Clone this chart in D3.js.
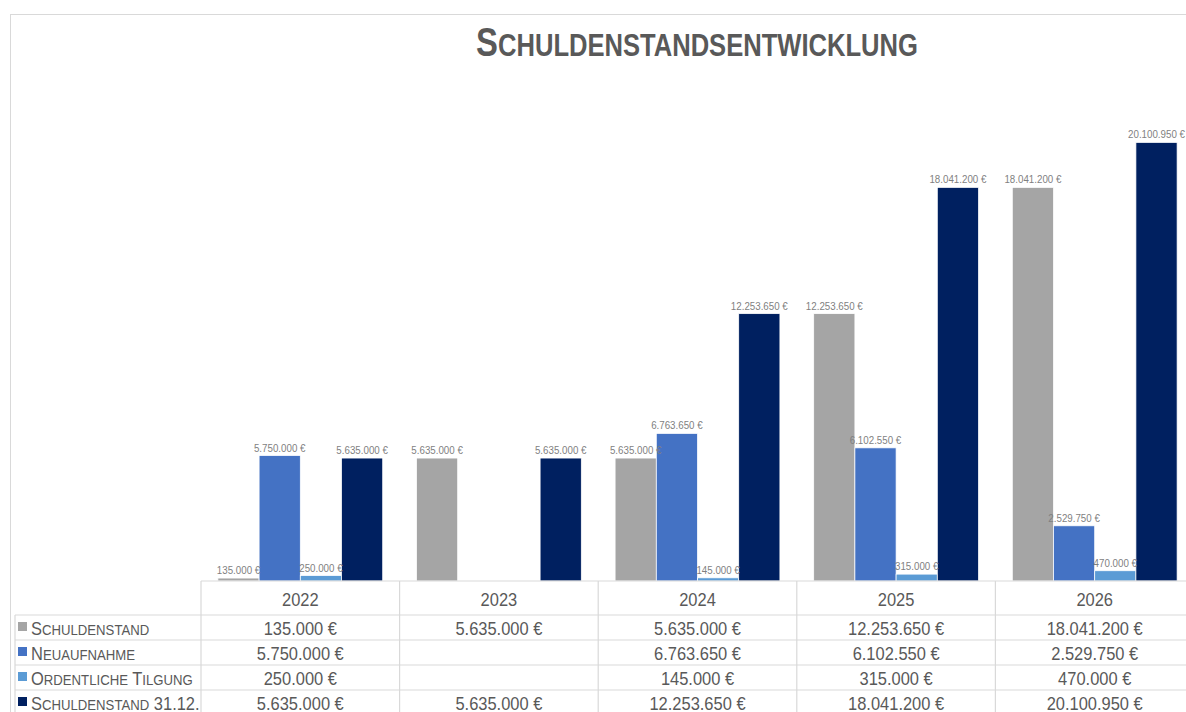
<!DOCTYPE html>
<html>
<head>
<meta charset="utf-8">
<script src="https://cdn.jsdelivr.net/npm/d3@7"></script>
<style>
  body { margin: 0; background: #fff; }
  svg { display: block; font-family: "Liberation Sans", Arial, sans-serif; }
</style>
</head>
<body>
<div id="chart"></div>
<script>
const years = ['2022', '2023', '2024', '2025', '2026']
const seriesNames = ['Schuldenstand', 'Neuaufnahme', 'Ordentliche Tilgung', 'Schuldenstand 31.12.']
const schuldenstand = [135000, 5635000, 5635000, 12253650, 18041200]
const neuaufnahme = [5750000, null, 6763650, 6102550, 2529750]
const tilgung = [250000, null, 145000, 315000, 470000]
const schuldenstandEnde = [5635000, 5635000, 12253650, 18041200, 20100950]
const colors = ['#a5a5a5', '#4472c4', '#5b9bd5', '#002060']

const allSeries = [schuldenstand, neuaufnahme, tilgung, schuldenstandEnde]

let svgWidth = 1186,
  svgHeight = 712

const de = d3.formatLocale({ decimal: ',', thousands: '.', grouping: [3], currency: ['', ' €'] })
const fmt = (v) => de.format(',.0f')(v) + ' €'

let svg = d3
  .select('#chart')
  .append('svg')
  .attr('width', svgWidth)
  .attr('height', svgHeight)

// no narrow font installed, so squeeze the normal one
function place(x, y, sx) {
  return 'translate(' + x + ',' + y + ') scale(' + sx + ',1)'
}

// chart border
svg
  .append('rect')
  .attr('x', 10.5)
  .attr('y', 14.5)
  .attr('width', 1400)
  .attr('height', 800)
  .attr('fill', 'none')
  .attr('stroke', '#d9d9d9')

// write text in small caps like excel does
function smallCaps(sel, str, size, ratio) {
  let runs = []
  for (let ch of str) {
    let small = ch !== ch.toUpperCase()
    if (runs.length && runs[runs.length - 1].small === small) runs[runs.length - 1].t += ch
    else runs.push({ t: ch, small: small })
  }
  runs.forEach((r) => {
    sel
      .append('tspan')
      .attr('font-size', r.small ? size * ratio : size)
      .text(r.t.toUpperCase())
  })
}

// title
let title = svg
  .append('text')
  .attr('transform', place(697, 56, 0.8))
  .attr('text-anchor', 'middle')
  .attr('fill', '#595959')
  .attr('font-weight', 'bold')
smallCaps(title, 'Schuldenstandsentwicklung', 41, 0.78)

// scales
let x0 = d3.scaleBand().domain(years).range([201, 1194])
let x1 = d3
  .scaleBand()
  .domain(d3.range(4))
  .range([0, x0.bandwidth()])
  .paddingOuter(0.41)
let y = d3.scaleLinear().domain([0, 22000000]).range([581, 101])

// bars
let groups = svg
  .selectAll('.year')
  .data(years)
  .enter()
  .append('g')
  .attr('class', 'year')
  .attr('transform', (d) => 'translate(' + x0(d) + ',0)')

groups.each(function (yr, i) {
  let g = d3.select(this)
  let vals = allSeries
    .map((s, k) => ({ k: k, v: s[i] }))
    .filter((d) => d.v != null)
  g.selectAll('rect')
    .data(vals)
    .enter()
    .append('rect')
    .attr('x', (d) => x1(d.k))
    .attr('width', x1.bandwidth())
    .attr('y', (d) => y(d.v))
    .attr('height', (d) => y(0) - y(d.v))
    .attr('fill', (d) => colors[d.k])
    .attr('stroke', '#fff')
    .attr('stroke-width', 0.75)
  g.selectAll('.lbl')
    .data(vals)
    .enter()
    .append('text')
    .attr('class', 'lbl')
    .attr('transform', (d) => place(x1(d.k) + x1.bandwidth() / 2, y(d.v) - 4, 0.93))
    .attr('text-anchor', 'middle')
    .attr('font-size', 10.5)
    .attr('fill', '#7f7f7f')
    .text((d) => fmt(d.v))
})

// data table
let tableTop = 581,
  headH = 34,
  rowH = 25
let grid = svg.append('g').attr('stroke', '#d9d9d9').attr('stroke-width', 1.2)
grid
  .append('line')
  .attr('x1', 201)
  .attr('x2', 1200)
  .attr('y1', tableTop)
  .attr('y2', tableTop)
seriesNames.forEach((s, k) => {
  let yy = tableTop + headH + k * rowH
  grid.append('line').attr('x1', 15).attr('x2', 1200).attr('y1', yy).attr('y2', yy)
})
years.forEach((yr) => {
  grid
    .append('line')
    .attr('x1', x0(yr))
    .attr('x2', x0(yr))
    .attr('y1', tableTop)
    .attr('y2', 720)
})
grid
  .append('line')
  .attr('x1', 15)
  .attr('x2', 15)
  .attr('y1', tableTop + headH)
  .attr('y2', 720)

// header
svg
  .selectAll('.yr')
  .data(years)
  .enter()
  .append('text')
  .attr('class', 'yr')
  .attr('transform', (d) => place(x0(d) + x0.bandwidth() / 2, tableTop + 25, 0.89))
  .attr('text-anchor', 'middle')
  .attr('font-size', 18.5)
  .attr('fill', '#595959')
  .text((d) => d)

// rows
seriesNames.forEach((s, k) => {
  let top = tableTop + headH + k * rowH
  svg
    .append('rect')
    .attr('x', 18)
    .attr('y', top + 7)
    .attr('width', 9)
    .attr('height', 9)
    .attr('fill', colors[k])
  let t = svg
    .append('text')
    .attr('transform', place(31, top + 20, 0.89))
    .attr('fill', '#595959')
  smallCaps(t, s, 18.5, 0.8)
  svg
    .selectAll('.v' + k)
    .data(years)
    .enter()
    .append('text')
    .attr('transform', (d) => place(x0(d) + x0.bandwidth() / 2, top + 20, 0.89))
    .attr('text-anchor', 'middle')
    .attr('font-size', 18.5)
    .attr('fill', '#595959')
    .text((d, i) => (allSeries[k][i] == null ? '' : fmt(allSeries[k][i])))
})
</script>
</body>
</html>
